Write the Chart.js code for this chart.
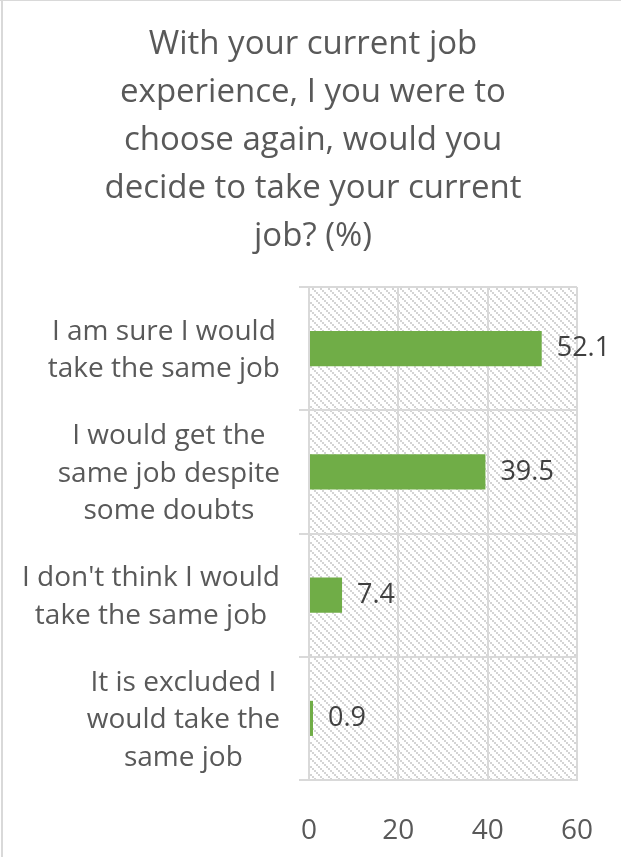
<!DOCTYPE html>
<html>
<head>
<meta charset="utf-8">
<script src="https://cdn.jsdelivr.net/npm/chart.js@4/dist/chart.umd.min.js"></script>
<style>
  html, body { margin: 0; padding: 0; background: #fff; }
  #wrap { position: relative; width: 621px; height: 857px; }
</style>
</head>
<body>
<div id="wrap"><canvas id="jobChart" width="621" height="857"></canvas></div>
<script>
// survey question and answers
const titleLines = [
  'With your current job',
  'experience, I you were to',
  'choose again, would you',
  'decide to take your current',
  'job? (%)'
];
const answers = [
  ['I am sure I would', 'take the same job'],
  ['I would get the', 'same job despite', 'some doubts'],
  ["I don't think I would", 'take the same job'],
  ['It is excluded I', 'would take the', 'same job']
];
const shares = [52.1, 39.5, 7.4, 0.9];
const axisTicks = [0, 20, 40, 60];

const FONT = "'Open Sans'";
const GREY = '#595959';
const LINE = '#d9d9d9';

// light diagonal hatch used behind the bars
function makeHatch(ctx) {
  const tile = document.createElement('canvas');
  tile.width = 8; tile.height = 8;
  const t = tile.getContext('2d');
  t.fillStyle = '#fff';
  t.fillRect(0, 0, 8, 8);
  t.fillStyle = '#d4d4d4';
  for (let i = 0; i < 8; i += 2) t.fillRect(i, i, 2, 2);
  return ctx.createPattern(tile, 'repeat');
}

const backdrop = {
  id: 'backdrop',
  beforeDraw(chart) {
    const { ctx, chartArea: a, width, height } = chart;
    ctx.save();
    ctx.fillStyle = '#fff';
    ctx.fillRect(0, 0, width, height);
    ctx.fillStyle = LINE;
    ctx.fillRect(0, 0, width, 1);
    ctx.fillRect(1, 0, 2, height);
    ctx.fillStyle = makeHatch(ctx);
    ctx.fillRect(a.left, a.top, a.right - a.left, a.bottom - a.top);
    ctx.restore();
  }
};

// category labels: each block right-aligned, its lines centred on one another
const answerLabels = {
  id: 'answerLabels',
  afterDraw(chart) {
    const { ctx, chartArea } = chart;
    const y = chart.scales.y;
    const right = chartArea.left - 29;
    const lineH = 37.5;
    ctx.save();
    ctx.font = '28px ' + FONT;
    ctx.fillStyle = GREY;
    ctx.textAlign = 'center';
    ctx.textBaseline = 'middle';
    chart.data.labels.forEach((lines, i) => {
      const cy = y.getPixelForValue(i) + 2;
      const w = Math.max(...lines.map(l => ctx.measureText(l).width));
      const cx = right - w / 2;
      lines.forEach((l, j) => ctx.fillText(l, cx, cy + (j - (lines.length - 1) / 2) * lineH));
    });

    // value next to each bar
    ctx.font = '27px ' + FONT;
    ctx.fillStyle = '#404040';
    ctx.textAlign = 'left';
    chart.getDatasetMeta(0).data.forEach((bar, i) => {
      ctx.fillText(shares[i].toFixed(1), bar.x + 15, bar.y);
    });
    ctx.restore();
  }
};

function build() {
  new Chart(document.getElementById('jobChart'), {
    type: 'bar',
    data: {
      labels: answers,
      datasets: [{
        data: shares,
        backgroundColor: '#70ad47',
        borderWidth: 0,
        barPercentage: 0.285,
        categoryPercentage: 1
      }]
    },
    options: {
      indexAxis: 'y',
      responsive: false,
      animation: false,
      layout: { padding: { left: 5, right: 0, top: 0, bottom: 9 } },
      plugins: {
        legend: { display: false },
        tooltip: { enabled: false },
        title: {
          display: true,
          text: titleLines,
          color: GREY,
          font: { family: FONT, size: 33, weight: 'normal', lineHeight: 48 / 33 },
          padding: { top: 21, bottom: 26 }
        }
      },
      scales: {
        x: {
          min: axisTicks[0],
          max: axisTicks[axisTicks.length - 1],
          ticks: {
            stepSize: axisTicks[1] - axisTicks[0],
            color: GREY,
            font: { family: FONT, size: 28 },
            padding: 4,
            maxRotation: 0
          },
          // invisible tick marks push the numbers down without widening the side padding
          grid: { color: LINE, lineWidth: 2, drawTicks: true, tickLength: 30, tickColor: 'rgba(0,0,0,0)' },
          border: { color: LINE, width: 2 },
          afterFit(scale) { scale.height = 68; }
        },
        y: {
          ticks: { display: false },
          grid: { color: LINE, lineWidth: 2, tickLength: 10, offset: true },
          border: { color: LINE, width: 2 },
          afterFit(scale) { scale.width = 304; }
        },
        // empty strip holding the right margin, so the title stays centred on the canvas
        margin: {
          type: 'category',
          axis: 'y',
          position: 'right',
          ticks: { display: false },
          grid: { display: false },
          border: { display: false },
          afterFit(scale) { scale.width = 44; }
        }
      }
    },
    plugins: [backdrop, answerLabels]
  });
}

Promise.all([
  document.fonts.load('28px ' + FONT),
  document.fonts.load('33px ' + FONT)
]).then(build, build);
</script>
</body>
</html>
